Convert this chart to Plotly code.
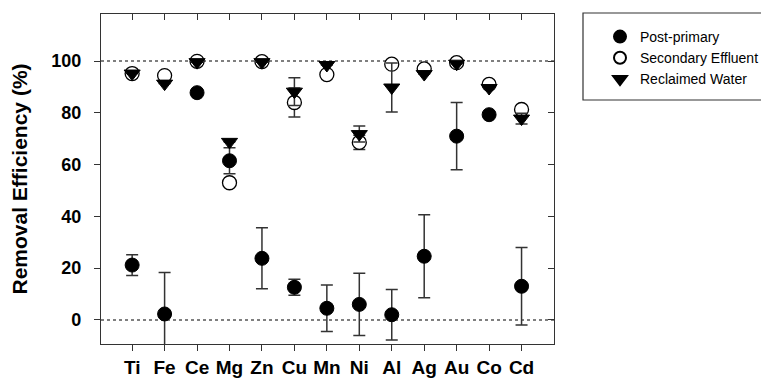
import plotly.graph_objects as go

elements = ["Ti", "Fe", "Ce", "Mg", "Zn", "Cu", "Mn", "Ni", "Al", "Ag", "Au", "Co", "Cd"]

post_primary = [21.2, 2.3, 87.8, 61.5, 23.8, 12.6, 4.5, 6.0, 2.0, 24.6, 71.0, 79.3, 13.0]
post_primary_err = [4.0, 16.0, None, 5.0, 11.8, 3.1, 9.0, 12.0, 9.8, 16.0, 13.0, None, 15.0]

secondary = [95.2, 94.4, 99.9, 53.0, 99.8, 84.0, 94.8, 68.6, 98.8, 97.0, 99.4, 91.0, 81.3]
secondary_err = [None, None, None, None, None, 5.6, None, 2.8, None, None, None, None, None]

reclaimed = [95.2, 91.3, 99.6, 68.8, 99.6, 88.2, 98.5, 71.8, 89.8, 95.0, 99.0, 89.6, 77.8]
reclaimed_err = [None, None, None, None, None, 5.4, None, 3.1, 9.5, None, None, None, 2.1]

y_ticks = [0, 20, 40, 60, 80, 100]

AX = "#333333"
FONT = "Liberation Sans, Arial, sans-serif"

# page body has an 8px margin: figure is sized to fill the window from (8, 8)
OFF = 8
W, H = 769 - OFF, 380 - OFF
PL, PR, PT, PB = 101, 554, 14, 344  # plot area in window pixels

fig = go.Figure()

def err(arr):
    return dict(type="data", array=arr, visible=True, color=AX, thickness=1.5, width=6)

fig.add_trace(go.Scatter(
    x=elements, y=post_primary, mode="markers", name="Post-primary",
    marker=dict(symbol="circle", size=14, color="black", line=dict(color="black", width=1)),
    error_y=err(post_primary_err),
))
fig.add_trace(go.Scatter(
    x=elements, y=secondary, mode="markers", name="Secondary Effluent",
    marker=dict(symbol="circle", size=14, color="white", line=dict(color="black", width=1.3)),
    error_y=err(secondary_err),
))
fig.add_trace(go.Scatter(
    x=elements, y=reclaimed, mode="markers", name="Reclaimed Water",
    marker=dict(symbol="triangle-down", size=14, color="black", line=dict(color="black", width=1)),
    error_y=err(reclaimed_err),
))
# helper trace for mirrored (inside) ticks on top/right
fig.add_trace(go.Scatter(
    x=[0], y=[0], xaxis="x2", yaxis="y2", mode="markers",
    marker=dict(opacity=0), hoverinfo="skip", showlegend=False,
))

xr = [-0.96, 13.0]
yr = [-9.3, 118.2]

def px(xw):
    return (xw - PL) / (PR - PL)

def py(yw):
    return (PB - yw) / (PB - PT)

fig.update_layout(
    width=W, height=H,
    margin=dict(l=PL - OFF, r=W - (PR - OFF), t=PT - OFF, b=H - (PB - OFF), autoexpand=False),
    paper_bgcolor="white", plot_bgcolor="white",
    font=dict(family=FONT, color="black"),
    showlegend=True,
    legend=dict(
        x=px(600), y=py(21), xanchor="left", yanchor="top",
        font=dict(size=14, family=FONT, color="black"),
        bgcolor="rgba(0,0,0,0)", borderwidth=0, tracegroupgap=0,
        itemsizing="constant",
    ),
    xaxis=dict(
        range=xr, showgrid=False, zeroline=False,
        showline=True, linecolor=AX, linewidth=1.2,
        ticks="outside", ticklen=6, tickcolor=AX, tickwidth=1.2,
        tickfont=dict(size=19, family=FONT, color="black", weight="bold"),
        ticklabelstandoff=0,
    ),
    yaxis=dict(
        range=yr, showgrid=False, zeroline=False,
        showline=True, linecolor=AX, linewidth=1.2,
        ticks="outside", ticklen=6, tickcolor=AX, tickwidth=1.2,
        tickvals=y_ticks, ticktext=[str(v) for v in y_ticks],
        tickfont=dict(size=18, family=FONT, color="black", weight="bold"),
        ticklabelstandoff=9,
        title=dict(text="Removal Efficiency (%)", standoff=22,
                   font=dict(size=21, family=FONT, color="black", weight="bold")),
    ),
    xaxis2=dict(
        overlaying="x", side="top", type="linear", range=xr,
        tickvals=list(range(len(elements))), showticklabels=False,
        ticks="inside", ticklen=6, tickcolor=AX, tickwidth=1.2,
        showline=True, linecolor=AX, linewidth=1.2, showgrid=False, zeroline=False,
    ),
    yaxis2=dict(
        overlaying="y", side="right", range=yr,
        tickvals=y_ticks, showticklabels=False,
        ticks="inside", ticklen=6, tickcolor=AX, tickwidth=1.2,
        showline=True, linecolor=AX, linewidth=1.2, showgrid=False, zeroline=False,
    ),
    shapes=[
        dict(type="line", xref="paper", yref="y", x0=0, x1=1, y0=100, y1=100,
             line=dict(color="#555555", width=1.5, dash="dot"), layer="below"),
        dict(type="line", xref="paper", yref="y", x0=0, x1=1, y0=0, y1=0,
             line=dict(color="#555555", width=1.5, dash="dot"), layer="below"),
        dict(type="rect", xref="paper", yref="paper",
             x0=px(583), x1=px(767.5), y0=py(100), y1=py(13),
             line=dict(color=AX, width=1.2), fillcolor="rgba(0,0,0,0)"),
    ],
)

fig.write_html("out.html")
